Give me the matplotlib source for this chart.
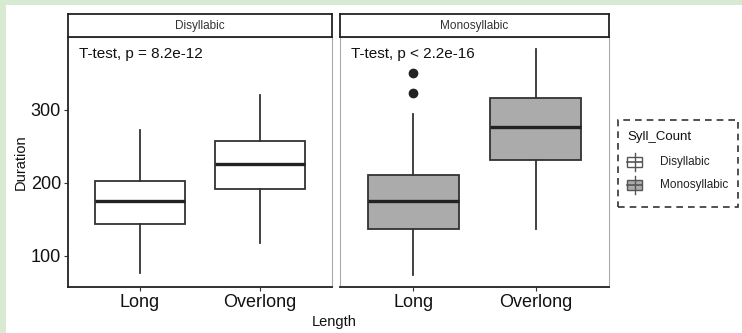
import matplotlib.pyplot as plt
from matplotlib.patches import Rectangle
from matplotlib.lines import Line2D

plt.rcParams['font.family'] = ['Liberation Sans', 'DejaVu Sans']

# box stats: (whislo, q1, med, q3, whishi)
panels = ["Disyllabic", "Monosyllabic"]
categories = ["Long", "Overlong"]
stats = {
    "Disyllabic": [(76, 144, 175, 202, 272), (118, 191, 226, 257, 320)],
    "Monosyllabic": [(73, 137, 175, 210, 295), (137, 231, 277, 316, 383)],
}
outliers = {
    "Disyllabic": [[], []],
    "Monosyllabic": [[323, 350], []],
}
pvalues = ["T-test, p = 8.2e-12", "T-test, p < 2.2e-16"]
fills = {"Disyllabic": "white", "Monosyllabic": "#ababab"}

W, H = 742, 333
fig = plt.figure(figsize=(W / 100, H / 100), dpi=100)
fig.patch.set_facecolor("#d9ead3")
fig.patches.append(Rectangle((6 / W, 0), 1, 1 - 5 / H, transform=fig.transFigure,
                             facecolor="white", edgecolor="none", zorder=-1))

edge = "#333333"
panel_x = [(68, 332), (340, 609)]
y_top, y_bot, strip_top = 37, 287, 14

for i, (name, (x0, x1)) in enumerate(zip(panels, panel_x)):
    ax = fig.add_axes([x0 / W, 1 - y_bot / H, (x1 - x0) / W, (y_bot - y_top) / H])
    bxp = []
    for j, (lo, q1, med, q3, hi) in enumerate(stats[name]):
        bxp.append(dict(whislo=lo, q1=q1, med=med, q3=q3, whishi=hi,
                        fliers=outliers[name][j], label=categories[j]))
    ax.bxp(bxp, positions=[1, 2], widths=0.75, patch_artist=True, showcaps=False,
           boxprops=dict(facecolor=fills[name], edgecolor=edge, linewidth=1.3),
           medianprops=dict(color="#222222", linewidth=2.4),
           whiskerprops=dict(color=edge, linewidth=1.3),
           flierprops=dict(marker="o", markerfacecolor="#222222", markeredgecolor="#222222",
                           markersize=6))
    ax.set_xlim(0.4, 2.6)
    ax.set_ylim(57, 400)
    ax.set_yticks([100, 200, 300])
    ax.text(0.04, 0.96, pvalues[i], transform=ax.transAxes, fontsize=11,
            va="top", ha="left", color="#111111")
    for s in ["top", "right"]:
        ax.spines[s].set_color("#aaaaaa")
        ax.spines[s].set_linewidth(0.8)
    for s in ["left", "bottom"]:
        ax.spines[s].set_color("#222222")
        ax.spines[s].set_linewidth(1.3)
    ax.tick_params(axis="both", labelsize=13, colors="#333333", labelcolor="#111111",
                   length=3, width=0.8, pad=2)
    if i == 0:
        ax.set_ylabel("Duration", fontsize=10.5, color="#111111", labelpad=2)
    else:
        ax.spines["left"].set_color("#aaaaaa")
        ax.spines["left"].set_linewidth(0.8)
        ax.tick_params(axis="y", left=False, labelleft=False)

    sax = fig.add_axes([x0 / W, 1 - y_top / H, (x1 - x0) / W, (y_top - strip_top) / H])
    sax.set_xticks([])
    sax.set_yticks([])
    for s in sax.spines.values():
        s.set_color("#222222")
        s.set_linewidth(1.3)
    sax.text(0.5, 0.5, name, transform=sax.transAxes, ha="center", va="center",
             fontsize=8.5, color="#333333")

fig.text(334 / W, 1 - 322 / H, "Length", ha="center", va="center",
         fontsize=10.5, color="#111111")

# legend with dashed frame
lx0, lx1, ly0, ly1 = 618, 738, 120, 207
fig.patches.append(Rectangle((lx0 / W, 1 - ly1 / H), (lx1 - lx0) / W, (ly1 - ly0) / H,
                             transform=fig.transFigure, facecolor="white", edgecolor="#333333",
                             linestyle=(0, (4, 3)), linewidth=1.2))
fig.text(627 / W, 1 - 137 / H, "Syll_Count", fontsize=9.5, va="center", ha="left", color="#111111")
for k, name in enumerate(panels):
    cy = 162 + k * 23
    kx0, kx1 = 627, 642
    fig.add_artist(Line2D([634.5 / W, 634.5 / W], [1 - (cy - 9) / H, 1 - (cy + 9) / H],
                          transform=fig.transFigure, color="#555555", linewidth=1))
    fig.patches.append(Rectangle((kx0 / W, 1 - (cy + 5) / H), (kx1 - kx0) / W, 10 / H,
                                 transform=fig.transFigure, facecolor=fills[name],
                                 edgecolor="#555555", linewidth=1))
    fig.add_artist(Line2D([kx0 / W, kx1 / W], [1 - cy / H, 1 - cy / H],
                          transform=fig.transFigure, color="#555555", linewidth=1.2))
    fig.text(660 / W, 1 - cy / H, name, fontsize=8.5, va="center", ha="left", color="#222222")

fig.savefig("out.png", dpi=100)
